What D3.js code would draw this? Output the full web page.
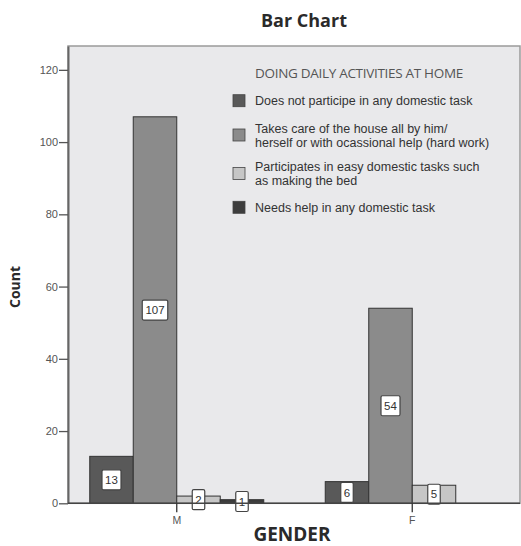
<!DOCTYPE html>
<html><head><meta charset="utf-8">
<script src="https://cdn.jsdelivr.net/npm/d3@7"></script>
<style>body{margin:0;background:#fff}</style>
</head><body>
<script>
const genders = ["M", "F"];
const series = [
  "Does not participe in any domestic task",
  "Takes care of the house all by him/ herself or with ocassional help (hard work)",
  "Participates in easy domestic tasks such as making the bed",
  "Needs help in any domestic task"
];
const legendLines = [
  ["Does not participe in any domestic task"],
  ["Takes care of the house all by him/", "herself or with ocassional help (hard work)"],
  ["Participates in easy domestic tasks such", "as making the bed"],
  ["Needs help in any domestic task"]
];
const valuesM = [13, 107, 2, 1];
const valuesF = [6, 54, 5, 0];
const yTicks = [0, 20, 40, 60, 80, 100, 120];
const colors = ["#595959", "#8b8b8b", "#c6c6c6", "#3d3d3d"];

const W = 521, H = 546;
const svg = d3.select("body").append("svg").attr("width", W).attr("height", H);
const plot = {left: 68, top: 46, right: 520, bottom: 503.3};

const y = d3.scaleLinear().domain([0, 126.6]).range([plot.bottom, plot.top]);
const x0 = d3.scaleBand().domain(genders).range([59, 530]).paddingInner(0).paddingOuter(0);
const groupW = 174;
const x1 = d3.scaleBand().domain(d3.range(series.length)).range([0, groupW]);

// plot background
svg.append("rect").attr("x", plot.left).attr("y", plot.top)
  .attr("width", plot.right - plot.left).attr("height", plot.bottom - plot.top)
  .attr("fill", "#e9e9eb").attr("stroke", "#9a9a9a").attr("stroke-width", 1.5);

const data = genders.map((g, gi) => ({g, vals: gi === 0 ? valuesM : valuesF}));

const groups = svg.append("g").selectAll("g").data(data).join("g")
  .attr("transform", d => `translate(${x0(d.g) + x0.bandwidth()/2 - groupW/2},0)`);

groups.selectAll("rect").data(d => d.vals.map((v, i) => ({v, i}))).join("rect")
  .filter(d => d.v > 0)
  .attr("x", d => x1(d.i)).attr("width", x1.bandwidth())
  .attr("y", d => y(d.v)).attr("height", d => y(0) - y(d.v))
  .attr("fill", d => colors[d.i]).attr("stroke", "#333").attr("stroke-width", 1);

// value labels
const lab = groups.selectAll("g.lab").data(d => d.vals.map((v, i) => ({v, i})).filter(e => e.v > 0)).join("g")
  .attr("class", "lab")
  .attr("transform", d => `translate(${x1(d.i) + x1.bandwidth()/2},${(y(d.v) + y(0))/2})`);
lab.append("rect")
  .attr("x", d => -(String(d.v).length * 6.5 + 6) / 2)
  .attr("width", d => String(d.v).length * 6.5 + 6)
  .attr("y", -10).attr("height", 20).attr("rx", 1.5)
  .attr("fill", "#fff").attr("stroke", "#444").attr("stroke-width", 1.2);
lab.append("text").text(d => d.v).attr("text-anchor", "middle").attr("dy", "0.36em")
  .attr("font-family", "Liberation Sans, Arial, sans-serif").attr("font-size", 11.5).attr("fill", "#333");

// axes
const yAxis = svg.append("g").attr("transform", `translate(${plot.left},0)`)
  .call(d3.axisLeft(y).tickValues(yTicks).tickSize(9).tickSizeOuter(0).tickPadding(1));
yAxis.select(".domain").attr("stroke", "#666").attr("stroke-width", 2);
yAxis.selectAll(".tick line").attr("stroke", "#555").attr("stroke-width", 1.3);
yAxis.selectAll("text").attr("font-family", "Liberation Sans, Arial, sans-serif").attr("font-size", 11).attr("fill", "#555");

const xAxis = svg.append("g").attr("transform", `translate(0,${plot.bottom})`)
  .call(d3.axisBottom(x0).tickSize(9).tickSizeOuter(0).tickPadding(4));
xAxis.select(".domain").attr("d", `M${plot.left},0H${plot.right}`).attr("stroke", "#444").attr("stroke-width", 1.5);
xAxis.selectAll(".tick line").attr("stroke", "#333").attr("stroke-width", 1.3);
xAxis.selectAll("text").attr("font-family", "Liberation Sans, Arial, sans-serif").attr("font-size", 10.5).attr("fill", "#555");

// titles
svg.append("text").attr("x", 304).attr("y", 27).attr("text-anchor", "middle")
  .attr("font-family", "Open Sans, sans-serif").attr("font-weight", "bold").attr("font-size", 18)
  .attr("fill", "#2a2a2a").text("Bar Chart");
svg.append("text").attr("x", 292).attr("y", 541).attr("text-anchor", "middle")
  .attr("font-family", "Open Sans, sans-serif").attr("font-weight", "bold").attr("font-size", 19)
  .attr("fill", "#2a2a2a").text("GENDER");
svg.append("text").attr("transform", "translate(20,287) rotate(-90)").attr("text-anchor", "middle")
  .attr("font-family", "Open Sans, sans-serif").attr("font-weight", "bold").attr("font-size", 14)
  .attr("fill", "#2a2a2a").text("Count");

// legend
const lg = svg.append("g");
lg.append("text").attr("x", 255).attr("y", 78)
  .attr("font-family", "Open Sans, sans-serif").attr("font-size", 13.5).attr("fill", "#555")
  .attr("letter-spacing", -0.3).text("DOING DAILY ACTIVITIES AT HOME");
const itemY = [100.7, 135, 173.5, 207.3];
const items = lg.selectAll("g.item").data(series).join("g").attr("class", "item")
  .attr("transform", (d, i) => `translate(0,${itemY[i]})`);
items.append("rect").attr("x", 233).attr("y", -6).attr("width", 12).attr("height", 12)
  .attr("fill", (d, i) => colors[i]).attr("stroke", "#444").attr("stroke-width", 0.8);
items.each(function(d, i) {
  const lines = legendLines[i];
  const t = d3.select(this).append("text").attr("x", 255)
    .attr("font-family", "Liberation Sans, Arial, sans-serif").attr("font-size", 12.5).attr("fill", "#333");
  lines.forEach((l, k) => {
    t.append("tspan").attr("x", 255).attr("y", (k - (lines.length - 1) / 2) * 14 + 4.5).text(l);
  });
});
</script>
</body></html>
